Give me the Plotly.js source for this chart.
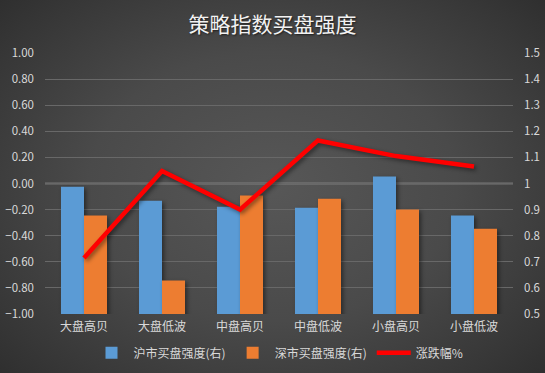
<!DOCTYPE html>
<html>
<head>
<meta charset="utf-8">
<script src="https://cdn.plot.ly/plotly-3.0.1.min.js"></script>
<style>
html,body{margin:0;padding:0;}
body{width:545px;height:373px;overflow:hidden;
background: radial-gradient(ellipse 75% 80% at 50% 50%, #575757 0%, #4a4a4a 45%, #363636 80%, #2a2a2a 100%);}
#chart{width:545px;height:373px;}
.barlayer .point path{filter: drop-shadow(2px 2px 2px rgba(0,0,0,0.45));}
.scatterlayer .js-line{filter: drop-shadow(2px 2px 2px rgba(0,0,0,0.45));}
.gtitle{text-shadow: 1px 1px 2px rgba(0,0,0,0.6);}
</style>
</head>
<body>
<div id="chart"></div>
<script>
const categories = ["大盘高贝","大盘低波","中盘高贝","中盘低波","小盘高贝","小盘低波"];
const huBuyStrength = [0.988, 0.934, 0.911, 0.907, 1.027, 0.877];
const shenBuyStrength = [0.877, 0.628, 0.954, 0.942, 0.900, 0.827];
const changePct = [-0.57, 0.095, -0.20, 0.33, 0.21, 0.13];
const leftTicks = [-1, -0.8, -0.6, -0.4, -0.2, 0, 0.2, 0.4, 0.6, 0.8, 1];
const rightTicks = [0.5, 0.6, 0.7, 0.8, 0.9, 1, 1.1, 1.2, 1.3, 1.4, 1.5];
const rightTickText = ["0.5","0.6","0.7","0.8","0.9","1","1.1","1.2","1.3","1.4","1.5"];

const font = "'Noto Sans CJK SC', 'Microsoft YaHei', sans-serif";
const textColor = "#d9d9d9";

const traces = [
  {type:"bar", name:"沪市买盘强度(右)", x:categories, y:huBuyStrength, yaxis:"y",
   marker:{color:"#5B9BD5"}},
  {type:"bar", name:"深市买盘强度(右)", x:categories, y:shenBuyStrength, yaxis:"y",
   marker:{color:"#ED7D31"}},
  {type:"scatter", mode:"lines", name:"涨跌幅%", x:categories, y:changePct, yaxis:"y2",
   line:{color:"#FF0000", width:4.5}}
];

const layout = {
  width:545, height:373,
  paper_bgcolor:"rgba(0,0,0,0)", plot_bgcolor:"rgba(0,0,0,0)",
  margin:{l:45, r:32, t:53, b:59, autoexpand:false},
  font:{family:font, color:textColor, size:11},
  title:{text:"策略指数买盘强度", font:{family:font, size:21, color:"#f2f2f2"}, x:0.5, xanchor:"center", y:0.935, yanchor:"middle"},
  barmode:"group", bargap:0.41, bargroupgap:0,
  showlegend:true,
  legend:{orientation:"h", x:0.5, xanchor:"center", yref:"container", y:0.054, yanchor:"middle",
          font:{family:font, size:12, color:textColor}, bgcolor:"rgba(0,0,0,0)", traceorder:"normal",
          itemwidth:34},
  xaxis:{type:"category", showgrid:false, zeroline:false, showline:false, ticks:"",
         tickfont:{family:font, size:12, color:textColor}, fixedrange:true, ticklabelstandoff:4},
  yaxis:{side:"right", range:[0.5,1.5], tickvals:rightTicks, ticktext:rightTickText,
         showgrid:true, gridcolor:"#686868", gridwidth:1, zeroline:false, showline:false,
         tickfont:{family:font, size:11.5, color:textColor}, ticks:"", ticklabelstandoff:10},
  yaxis2:{side:"left", overlaying:"y", range:[-1,1], tickvals:leftTicks, tickformat:".2f",
          showgrid:false, zeroline:false, showline:false,
          tickfont:{family:font, size:11.5, color:textColor}, ticks:"", ticklabelstandoff:10},
  shapes:[{type:"line", xref:"paper", x0:0, x1:1, yref:"y", y0:1, y1:1, layer:"below",
           line:{color:"#a6a6a6", width:1.3}}]
};

Plotly.newPlot("chart", traces, layout, {displayModeBar:false, staticPlot:true});
</script>
</body>
</html>
